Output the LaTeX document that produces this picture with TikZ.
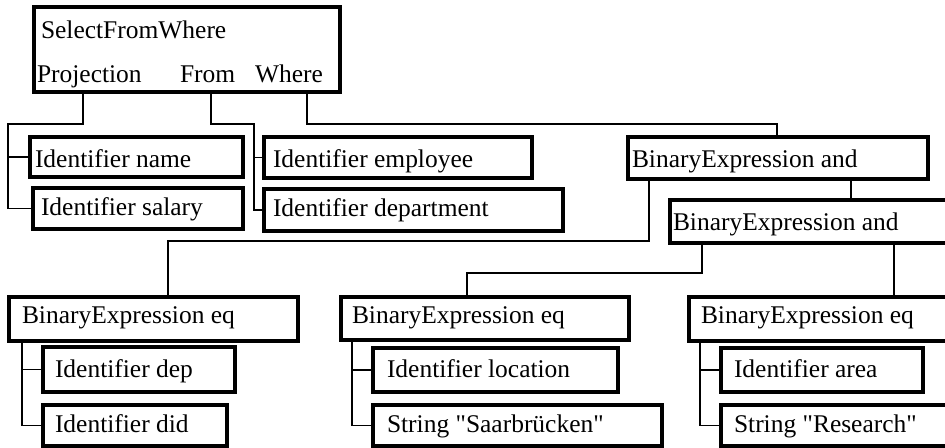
\documentclass[tikz,border=0pt]{standalone}
\usepackage{fontspec}
\setmainfont{Liberation Serif}
\setmonofont{Liberation Serif}
\usetikzlibrary{calc}
\newcommand\dq{{\ttfamily"}}
\tikzset{
  boxst/.style={draw=black, line width=2.4pt, fill=white, inner sep=0pt, outer sep=0pt, rectangle},
  txt/.style={anchor=base west, inner sep=0pt, outer sep=0pt, font=\fontsize{19.1pt}{23pt}\selectfont},
  conn/.style={draw=black, line width=1.4pt, line join=miter}
}
\newcommand\mkbox[8]{%
  \node[boxst, minimum width={(#4-#2)*0.75pt}, minimum height={(#5-#3)*0.75pt}, anchor=north west] (#1) at (#2,#3) {};
  \node[txt] (#1-t) at (#6,#7) {#8};
}
\begin{document}
\begin{tikzpicture}[x=0.75pt,y=-0.75pt]
\useasboundingbox (0,0) rectangle (945,447);
\fill[white] (0,0) rectangle (945,447);
\coordinate (projbus) at (8,124);
\coordinate (frombus) at (254,124);
% boxes
\mkbox{sfw}{34}{7}{340}{92}{41}{38}{SelectFromWhere}
\node[txt] (proj) at (37,82) {Projection};
\node[txt] (from) at (180,82) {From};
\node[txt] (where) at (255,82) {Where};
\mkbox{idname}{30}{137}{243}{177}{35}{167}{Identifier name}
\mkbox{idsal}{33}{188}{243}{229}{41}{215}{Identifier salary}
\mkbox{idemp}{264}{137}{532}{178}{273}{167}{Identifier employee}
\mkbox{iddept}{264}{189}{563}{231}{273}{216}{Identifier department}
\mkbox{andA}{628}{137}{928}{179}{632}{167}{BinaryExpression and}
\mkbox{andB}{670}{200}{958}{243}{673}{230}{BinaryExpression and}
\mkbox{eqA}{9}{297}{298}{341}{22}{323}{BinaryExpression eq}
\mkbox{iddep}{43}{347}{235}{392}{55}{377}{Identifier dep}
\mkbox{iddid}{43}{405}{227}{446}{55}{432}{Identifier did}
\mkbox{eqB}{341}{297}{629}{340}{352}{323}{BinaryExpression eq}
\mkbox{idloc}{373}{348}{618}{392}{387}{377}{Identifier location}
\mkbox{strsaar}{373}{405}{662}{446}{387}{432}{String \dq Saarbrücken\dq}
\mkbox{eqC}{689}{297}{958}{341}{701}{323}{BinaryExpression eq}
\mkbox{idarea}{721}{348}{923}{392}{734}{377}{Identifier area}
\mkbox{strres}{721}{405}{958}{446}{734}{432}{String \dq Research\dq}
% connectors
\draw[conn] ($(sfw.south west)+(49,0)$) |- (projbus) |- (idsal.west);
\draw[conn] (projbus |- idname.west) -- (idname.west);
\draw[conn] ($(sfw.south west)+(177,0)$) |- (frombus) |- (iddept.west);
\draw[conn] (frombus |- idemp.west) -- (idemp.west);
\draw[conn] ($(sfw.south west)+(273,0)$) -- ++(0,32) -| ($(andA.north west)+(149,0)$);
\draw[conn] ($(andA.south west)+(21,0)$) -- ++(0,62) -| ($(eqA.north west)+(159,0)$);
\draw[conn] ($(andA.south west)+(223,0)$) -- ($(andB.north west)+(181,0)$);
\draw[conn] ($(andB.south west)+(32,0)$) -- ++(0,30) -| ($(eqB.north west)+(126,0)$);
\draw[conn] ($(andB.south west)+(224,0)$) -- ($(eqC.north west)+(205,0)$);
\coordinate (busA) at ($(eqA.south west)+(13,0)$);
\coordinate (busB) at ($(eqB.south west)+(11,0)$);
\coordinate (busC) at ($(eqC.south west)+(11,0)$);
\draw[conn] (busA) |- (iddid.west);
\draw[conn] (busA |- iddep.west) -- (iddep.west);
\draw[conn] (busB) |- (strsaar.west);
\draw[conn] (busB |- idloc.west) -- (idloc.west);
\draw[conn] (busC) |- (strres.west);
\draw[conn] (busC |- idarea.west) -- (idarea.west);
\end{tikzpicture}
\end{document}
